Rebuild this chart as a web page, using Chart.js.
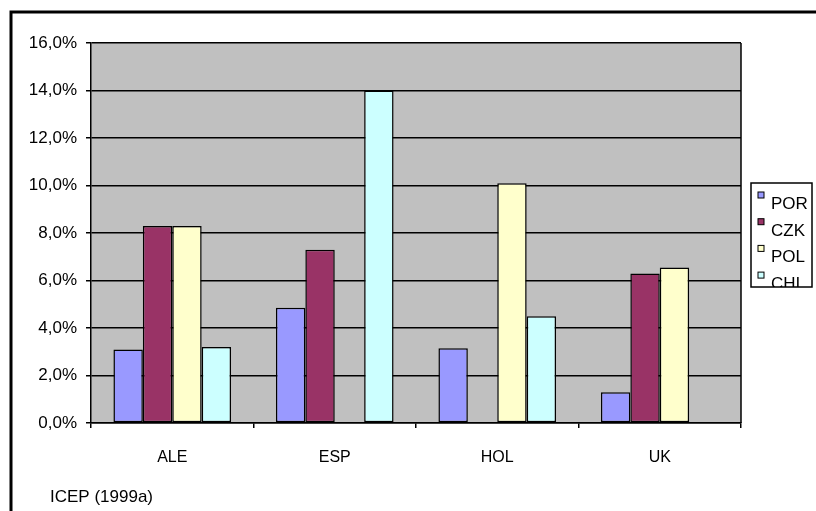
<!DOCTYPE html>
<html>
<head>
<meta charset="utf-8">
<script src="https://cdn.jsdelivr.net/npm/chart.js@4.4.0/dist/chart.umd.min.js"></script>
<style>
  body { margin: 0; background: #fff; }
  #wrap { width: 816px; height: 511px; position: relative; }
</style>
</head>
<body>
<div id="wrap"><canvas id="chart"></canvas></div>
<script>
const categories = ["ALE", "ESP", "HOL", "UK"];
const seriesNames = ["POR", "CZK", "POL", "CHI"];
const porValues = [3.1, 4.85, 3.15, 1.3];
const czkValues = [8.3, 7.3, null, 6.3];
const polValues = [8.3, null, 10.1, 6.55];
const chiValues = [3.2, 14.0, 4.5, null];
const yTickValues = [0, 2, 4, 6, 8, 10, 12, 14, 16];
const sourceNote = "ICEP (1999a)";

const colors = ["#9999ff", "#993366", "#ffffcc", "#ccffff"];
const FONT = "Liberation Sans, Arial, sans-serif";

function fmtPct(v) {
    return v.toFixed(1).replace(".", ",") + "%";
}

// grey plot area, frame, plot border, legend box and the source note
const excelDecor = {
    id: "excelDecor",
    beforeDraw(chart) {
        const a = chart.chartArea;
        const ctx = chart.ctx;
        ctx.save();
        ctx.fillStyle = "#c0c0c0";
        ctx.fillRect(a.left, a.top, a.right - a.left, a.bottom - a.top);
        ctx.restore();
    },
    afterDraw(chart) {
        const ctx = chart.ctx;
        const a = chart.chartArea;
        ctx.save();

        // right edge of the plot area
        ctx.strokeStyle = "#000";
        ctx.lineWidth = 1.5;
        ctx.beginPath();
        ctx.moveTo(a.right, a.top);
        ctx.lineTo(a.right, a.bottom);
        ctx.stroke();

        // outer frame (only top and left visible)
        ctx.lineWidth = 3;
        ctx.beginPath();
        ctx.moveTo(816, 12);
        ctx.lineTo(11, 12);
        ctx.lineTo(11, 511);
        ctx.stroke();

        // legend
        const lx = 751, ly = 183, lw = 61, lh = 104;
        ctx.lineWidth = 1.5;
        ctx.fillStyle = "#fff";
        ctx.fillRect(lx, ly, lw, lh);
        ctx.strokeRect(lx, ly, lw, lh);
        ctx.save();
        ctx.beginPath();
        ctx.rect(lx, ly, lw, lh);
        ctx.clip();
        chart.data.datasets.forEach((ds, i) => {
            const sy = ly + 9 + i * 26.7;
            ctx.fillStyle = ds.backgroundColor;
            ctx.fillRect(lx + 7, sy, 6, 6);
            ctx.lineWidth = 1;
            ctx.strokeStyle = "#000";
            ctx.strokeRect(lx + 7, sy, 6, 6);
            ctx.fillStyle = "#000";
            ctx.font = "17px " + FONT;
            ctx.textBaseline = "alphabetic";
            ctx.textAlign = "left";
            ctx.fillText(ds.label, lx + 20, sy + 17);
        });
        ctx.restore();

        // source note
        ctx.fillStyle = "#000";
        ctx.font = "17px " + FONT;
        ctx.textAlign = "left";
        ctx.textBaseline = "alphabetic";
        ctx.fillText(sourceNote, 50, 502);
        ctx.restore();
    }
};

const seriesValues = [porValues, czkValues, polValues, chiValues];

new Chart(document.getElementById("chart"), {
    type: "bar",
    data: {
        labels: categories,
        datasets: seriesNames.map((name, i) => ({
            label: name,
            data: seriesValues[i],
            backgroundColor: colors[i],
            borderColor: "#000",
            borderWidth: 1.5,
            borderSkipped: false,
            categoryPercentage: 0.724,
            barPercentage: 1.0
        }))
    },
    options: {
        responsive: true,
        maintainAspectRatio: false,
        animation: false,
        layout: { padding: { left: 0, top: 43, right: 75, bottom: 48 } },
        plugins: {
            legend: { display: false },
            tooltip: { enabled: false }
        },
        scales: {
            x: {
                afterFit: s => { s.height = 40; },
                grid: {
                    offset: true,
                    drawOnChartArea: false,
                    color: "#000",
                    lineWidth: 1.5,
                    tickLength: 5
                },
                border: { color: "#000", width: 1.5 },
                ticks: {
                    color: "#000",
                    font: { family: FONT, size: 16 },
                    padding: 20,
                    maxRotation: 0
                }
            },
            y: {
                min: 0,
                max: 16,
                afterFit: s => { s.width = 91; },
                afterBuildTicks: s => { s.ticks = yTickValues.map(v => ({ value: v })); },
                grid: {
                    color: "#000",
                    lineWidth: 1.5,
                    tickLength: 5
                },
                border: { color: "#000", width: 1.5 },
                ticks: {
                    color: "#000",
                    font: { family: FONT, size: 17 },
                    padding: 9,
                    callback: v => fmtPct(v)
                }
            }
        }
    },
    plugins: [excelDecor]
});
</script>
</body>
</html>
